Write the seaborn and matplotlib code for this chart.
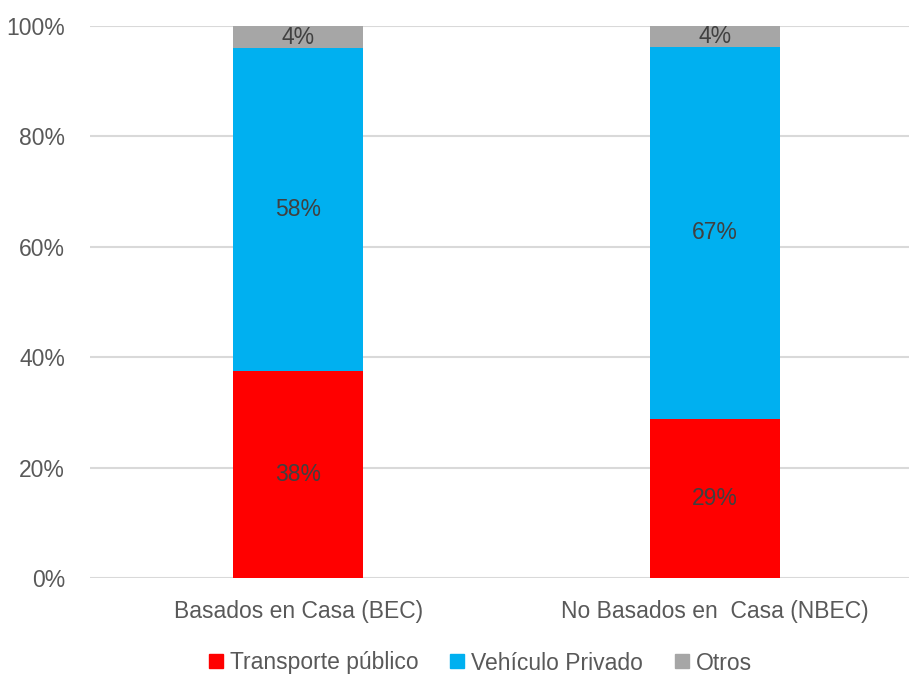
import pandas as pd
import matplotlib.pyplot as plt
import seaborn as sns
from matplotlib.lines import Line2D

# data (share of trips, %)
categories = ["Basados en Casa (BEC)", "No Basados en  Casa (NBEC)"]
transporte_publico = [37.5, 28.8]
vehiculo_privado = [58.5, 67.4]
otros = [4.0, 3.8]
series_names = ["Transporte público", "Vehículo Privado", "Otros"]
colors = ["#FF0000", "#00B0F0", "#A6A6A6"]
y_ticks = [0, 20, 40, 60, 80, 100]

df = pd.DataFrame({
    "cat": categories,
    series_names[0]: transporte_publico,
    series_names[1]: vehiculo_privado,
    series_names[2]: otros,
})

sns.set_style("white")
plt.rcParams["font.family"] = ["Liberation Sans Narrow", "Arial Narrow", "Liberation Sans", "DejaVu Sans"]

fig = plt.figure(figsize=(9.09, 6.77), dpi=100)
ax = fig.add_axes([90 / 909, 99 / 677, 819 / 909, 552 / 677])

bottom = [0.0] * len(categories)
for name, col in zip(series_names, colors):
    sns.barplot(data=df, x="cat", y=name, color=col, width=0.312,
                bottom=bottom, ax=ax, saturation=1, zorder=3,
                edgecolor="none")
    bars = ax.containers[-1]
    ax.bar_label(bars, labels=[f"{v:.0f}%" for v in df[name]],
                 label_type="center", color="#404040", fontsize=16.5)
    bottom = [b + v for b, v in zip(bottom, df[name])]

ax.set_xlim(-0.499, 1.465)
ax.set_ylim(0, 100)
ax.set_yticks(y_ticks)
ax.set_yticklabels([f"{t}%" for t in y_ticks])
ax.yaxis.grid(True, color="#D9D9D9", linewidth=1.5, zorder=0)
ax.set_axisbelow(True)
for s in ax.spines.values():
    s.set_visible(False)
ax.tick_params(axis="both", length=0, labelsize=16.5, colors="#595959")
ax.tick_params(axis="y", pad=18)
ax.tick_params(axis="x", pad=16)
ax.set_xlabel("")
ax.set_ylabel("")

handles = [Line2D([], [], marker="s", linestyle="none", markersize=9.5,
                  markerfacecolor=c, markeredgecolor=c) for c in colors]
fig.legend(handles, series_names, loc="center", ncol=3,
           bbox_to_anchor=(478 / 909, 14 / 677), frameon=False,
           fontsize=16.5, labelcolor="#595959", handletextpad=0.1,
           columnspacing=1.2, handlelength=1.0)

fig.savefig("out.png", dpi=100)
